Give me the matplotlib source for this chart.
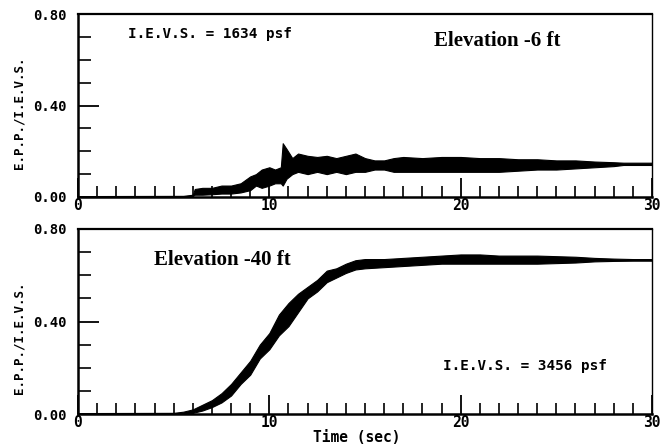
import matplotlib
matplotlib.use("Agg")
import matplotlib.pyplot as plt
from matplotlib.ticker import MultipleLocator

plt.rcParams['font.family'] = ['DejaVu Sans Mono', 'Liberation Mono']
plt.rcParams['font.weight'] = 'bold'

# ---- Data (envelope of the dense trace) ----
t_top = [0, 5.5, 6.0, 6.1, 6.5, 7.0, 7.5, 8.0, 8.5, 9.0, 9.3, 9.6, 10.0, 10.3,
         10.6, 10.7, 10.9, 11.2, 11.5, 12.0, 12.5, 13.0, 13.5, 14.0, 14.5, 15.0,
         15.5, 16.0, 16.5, 17.0, 18.0, 19.0, 20.0, 21.0, 22.0, 23.0, 24.0, 25.0,
         26.0, 27.0, 28.0, 28.5, 29.0, 30.0]
lo_top = [0.0, 0.0, 0.005, 0.01, 0.01, 0.012, 0.015, 0.015, 0.02, 0.03, 0.05, 0.04,
          0.05, 0.06, 0.06, 0.05, 0.08, 0.10, 0.11, 0.10, 0.11, 0.10, 0.11, 0.10,
          0.11, 0.11, 0.12, 0.12, 0.11, 0.11, 0.11, 0.11, 0.11, 0.11, 0.11, 0.115,
          0.12, 0.12, 0.125, 0.13, 0.135, 0.14, 0.14, 0.14]
hi_top = [0.004, 0.005, 0.01, 0.035, 0.04, 0.04, 0.05, 0.05, 0.06, 0.09, 0.10, 0.12,
          0.13, 0.12, 0.13, 0.235, 0.21, 0.17, 0.19, 0.18, 0.175, 0.18, 0.17, 0.18,
          0.19, 0.17, 0.16, 0.16, 0.17, 0.175, 0.17, 0.175, 0.175, 0.17, 0.17, 0.165,
          0.165, 0.16, 0.16, 0.155, 0.152, 0.15, 0.15, 0.15]

t_bot = [0, 5.0, 5.5, 6.0, 6.5, 7.0, 7.5, 8.0, 8.5, 9.0, 9.5, 10.0, 10.5, 11.0,
         11.5, 12.0, 12.5, 13.0, 13.5, 14.0, 14.5, 15.0, 16.0, 17.0, 18.0, 19.0,
         20.0, 21.0, 22.0, 24.0, 26.0, 27.0, 28.0, 29.0, 30.0]
lo_bot = [0.0, 0.0, 0.0, 0.005, 0.015, 0.03, 0.05, 0.08, 0.13, 0.17, 0.24, 0.28,
          0.34, 0.38, 0.44, 0.50, 0.53, 0.57, 0.59, 0.61, 0.625, 0.63, 0.635, 0.64,
          0.645, 0.65, 0.65, 0.65, 0.65, 0.65, 0.655, 0.66, 0.662, 0.663, 0.663]
hi_bot = [0.004, 0.005, 0.01, 0.02, 0.04, 0.06, 0.09, 0.13, 0.18, 0.23, 0.30, 0.35,
          0.43, 0.48, 0.52, 0.55, 0.58, 0.62, 0.63, 0.65, 0.665, 0.67, 0.67, 0.675,
          0.68, 0.685, 0.69, 0.69, 0.685, 0.685, 0.68, 0.675, 0.672, 0.67, 0.67]

x_ticks = [0, 10, 20, 30]
y_ticks = [0.0, 0.4, 0.8]
y_ticklabels = ["0.00", "0.40", "0.80"]

top_ievs = "I.E.V.S. = 1634 psf"
top_elev = "Elevation -6 ft"
bot_ievs = "I.E.V.S. = 3456 psf"
bot_elev = "Elevation -40 ft"

W, H = 662, 447
fig = plt.figure(figsize=(W / 100, H / 100), dpi=100)
fig.patch.set_facecolor('white')

def px_axes(l, t, r, b):
    return fig.add_axes([l / W, 1 - b / H, (r - l) / W, (b - t) / H])

ax1 = px_axes(78, 14, 652, 197)
ax2 = px_axes(78, 229, 652, 414)

for ax in (ax1, ax2):
    ax.set_xlim(0, 30)
    ax.set_ylim(0, 0.8)
    ax.set_xticks(x_ticks)
    ax.set_xticklabels([str(v) for v in x_ticks])
    ax.xaxis.set_minor_locator(MultipleLocator(1))
    ax.set_yticks(y_ticks)
    ax.set_yticklabels(y_ticklabels)
    ax.yaxis.set_minor_locator(MultipleLocator(0.1))
    ax.tick_params(axis='x', which='major', direction='in', length=14, width=1.3,
                   pad=1, labelsize=10.5, top=False)
    ax.tick_params(axis='x', which='minor', direction='in', length=8, width=1.2, top=False)
    ax.tick_params(axis='y', which='major', direction='in', length=15, width=1.3,
                   pad=8, labelsize=10, right=False)
    ax.tick_params(axis='y', which='minor', direction='in', length=9, width=1.2, right=False)
    for lab in ax.get_xticklabels() + ax.get_yticklabels():
        lab.set_fontweight('bold')
    ax.spines['left'].set_linewidth(1.8)
    ax.spines['bottom'].set_linewidth(1.8)
    ax.spines['top'].set_linewidth(1.6)
    ax.spines['right'].set_linewidth(1.0)

ax1.fill_between(t_top, lo_top, hi_top, color='black', linewidth=0.8, edgecolor='black')
ax2.fill_between(t_bot, lo_bot, hi_bot, color='black', linewidth=0.8, edgecolor='black')

ax1.text(0.087, 0.89, top_ievs, transform=ax1.transAxes, ha='left', va='center',
         fontsize=10.3, fontweight='bold')
ax1.text(0.73, 0.855, top_elev, transform=ax1.transAxes, ha='center', va='center',
         fontsize=15, fontweight='bold', family='Liberation Serif')
ax2.text(0.251, 0.832, bot_elev, transform=ax2.transAxes, ha='center', va='center',
         fontsize=15, fontweight='bold', family='Liberation Serif')
ax2.text(0.779, 0.26, bot_ievs, transform=ax2.transAxes, ha='center', va='center',
         fontsize=10.3, fontweight='bold')

fig.text(19 / W, 1 - 113 / H, "E.P.P./I.E.V.S.", rotation=90, ha='center', va='center',
         fontsize=9, fontweight='bold')
fig.text(19 / W, 1 - 338 / H, "E.P.P./I.E.V.S.", rotation=90, ha='center', va='center',
         fontsize=9, fontweight='bold')
fig.text(357 / W, 1 - 438 / H, "Time (sec)", ha='center', va='center',
         fontsize=10.5, fontweight='bold')

fig.savefig("out.png", dpi=100, facecolor='white')
